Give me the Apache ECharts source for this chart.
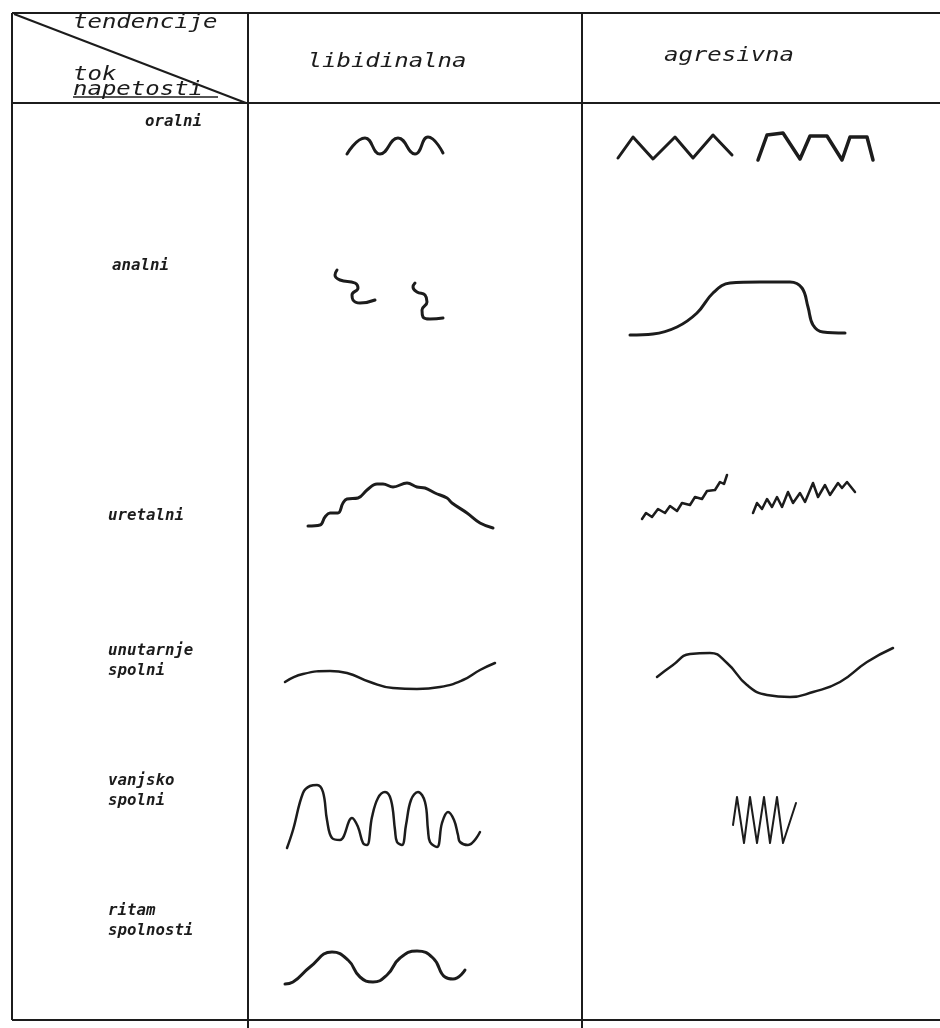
<!DOCTYPE html>
<html>
<head>
<meta charset="utf-8">
<script src="https://cdn.jsdelivr.net/npm/echarts@6/dist/echarts.min.js"></script>
<style>
  html, body { margin: 0; padding: 0; background: #fff; }
  #main { width: 940px; height: 1028px; }
</style>
</head>
<body>
<div id="main"></div>
<script>
// zaglavlja tablice
var columnTitles = ['libidinalna', 'agresivna'];
var cornerTop = 'tendencije';
var cornerBottom = ['tok', 'napetosti'];
var rowLabels = [['oralni'], ['analni'], ['uretalni'], ['unutarnje', 'spolni'], ['vanjsko', 'spolni'], ['ritam', 'spolnosti']];

// krivulje: [x unutar celije, visina od dna celije]
var libOral = [[99,46],[117,62],[132,46],[150,62],[167,46],[180,63],[195,47]];
var aggOralA = [[36,42],[51,63],[71,41],[93,63],[111,42],[131,65],[150,45]];
var aggOralB = [[176,40],[185,65],[201,67],[218,41],[228,64],[245,64],[260,40],[268,63],[285,63],[291,40]];

var libAnalA = [[89,120],[87,115],[92,110],[107,107],[110,102],[104,95],[105,90],[112,87],[127,90]];
var libAnalB = [[167,107],[165,103],[169,98],[177,95],[179,88],[174,80],[175,73],[182,71],[195,72]];
var aggAnal = [[48,55],[71,56],[95,63],[115,77],[131,97],[148,107],[178,108],[208,108],[220,102],[226,83],[231,65],[241,58],[263,57]];

var libUretal = [[60,64],[72,65],[77,73],[82,77],[90,77],[95,87],[99,91],[110,92],[119,100],[129,106],[135,106],[145,103],[159,107],[169,103],[177,102],[187,97],[199,92],[204,87],[219,77],[232,67],[245,62]];
var aggUretalA = [[60,71],[64,77],[70,73],[76,81],[83,77],[88,84],[95,79],[100,87],[108,85],[113,93],[120,91],[125,99],[133,100],[138,108],[142,106],[145,115]];
var aggUretalB = [[171,77],[175,87],[180,81],[185,91],[190,83],[195,93],[200,83],[206,98],[211,87],[218,97],[223,88],[231,107],[236,93],[243,105],[248,95],[256,107],[260,102],[265,108],[273,98]];

var libInner = [[37,48],[55,56],[82,59],[99,57],[122,48],[145,42],[169,41],[192,43],[215,50],[232,60],[247,67]];
var aggInner = [[75,53],[91,65],[108,76],[128,77],[145,67],[165,45],[185,35],[208,33],[231,38],[258,48],[285,68],[311,82]];

var libOuter = [[39,22],[45,40],[55,77],[62,84],[69,85],[75,78],[79,50],[84,32],[92,30],[104,52],[110,43],[115,27],[119,25],[124,53],[130,72],[137,78],[143,70],[147,40],[149,28],[154,25],[158,45],[163,70],[170,78],[177,68],[180,40],[182,28],[189,23],[194,47],[200,58],[206,50],[210,35],[212,28],[220,25],[232,38]];
var aggOuter = [[151,45],[155,73],[162,27],[168,73],[175,27],[182,73],[188,27],[195,73],[201,27],[214,67]];

var libRhythm = [[37,36],[45,38],[62,53],[84,68],[100,60],[112,43],[125,38],[139,45],[152,62],[169,69],[185,62],[197,43],[205,41],[217,50]];

// raspored tablice
var tableLeft = 12, tableTop = 13, tableBottom = 1020;
var colEdges = [248, 582, 940];
var rowEdges = [103, 200, 390, 590, 730, 870, 1020];
var ink = '#1c1c1c';

var curves = [
  {data: libOral, row: 0, col: 0, smooth: 0.5, width: 3},
  {data: aggOralA, row: 0, col: 1, smooth: false, width: 3},
  {data: aggOralB, row: 0, col: 1, smooth: false, width: 3.5},
  {data: libAnalA, row: 1, col: 0, smooth: 0.5, width: 3},
  {data: libAnalB, row: 1, col: 0, smooth: 0.5, width: 3},
  {data: aggAnal, row: 1, col: 1, smooth: 0.4, width: 3},
  {data: libUretal, row: 2, col: 0, smooth: 0.4, width: 3},
  {data: aggUretalA, row: 2, col: 1, smooth: false, width: 2.5},
  {data: aggUretalB, row: 2, col: 1, smooth: false, width: 2.5},
  {data: libInner, row: 3, col: 0, smooth: 0.5, width: 2.5},
  {data: aggInner, row: 3, col: 1, smooth: 0.5, width: 2.5},
  {data: libOuter, row: 4, col: 0, smooth: 0.4, width: 2.5},
  {data: aggOuter, row: 4, col: 1, smooth: false, width: 2},
  {data: libRhythm, row: 5, col: 0, smooth: 0.5, width: 3}
];

var grids = [], xAxes = [], yAxes = [], series = [];
curves.forEach(function (c, i) {
  var left = colEdges[c.col], w = colEdges[c.col + 1] - left;
  var top = rowEdges[c.row], h = rowEdges[c.row + 1] - top;
  grids.push({left: left, top: top, width: w, height: h, show: false});
  xAxes.push({type: 'value', gridIndex: i, min: 0, max: w, show: false});
  yAxes.push({type: 'value', gridIndex: i, min: 0, max: h, show: false});
  series.push({
    type: 'line', xAxisIndex: i, yAxisIndex: i, data: c.data,
    smooth: c.smooth, showSymbol: false, silent: true,
    lineStyle: {color: ink, width: c.width, cap: 'round', join: 'round'}
  });
});

// linije tablice
function line(x1, y1, x2, y2, w) {
  return {type: 'line', shape: {x1: x1, y1: y1, x2: x2, y2: y2}, style: {stroke: ink, lineWidth: w || 2}, silent: true};
}
var graphics = [
  line(tableLeft, tableTop, 940, tableTop),
  line(tableLeft, tableTop, tableLeft, tableBottom),
  line(tableLeft, rowEdges[0], 940, rowEdges[0]),
  line(colEdges[0], tableTop, colEdges[0], 1028),
  line(colEdges[1], tableTop, colEdges[1], 1028),
  line(tableLeft, tableBottom, 940, tableBottom),
  line(tableLeft + 2, tableTop + 1, colEdges[0] - 2, rowEdges[0]),
  line(73, 97, 218, 97, 1.5)
];

function txt(s, x, y, size, align, sx, weight) {
  return {
    type: 'text', x: x, y: y, scaleX: sx, silent: true,
    style: {text: s, fill: ink, fontFamily: 'DejaVu Sans Mono', fontStyle: 'italic',
      fontWeight: weight || 'normal', fontSize: size, textAlign: align, textVerticalAlign: 'middle'}
  };
}
graphics.push(txt(cornerTop, 73, 23, 20, 'left', 1.2));
graphics.push(txt(cornerBottom[0], 73, 75, 20, 'left', 1.2));
graphics.push(txt(cornerBottom[1], 73, 90, 20, 'left', 1.2));
graphics.push(txt(columnTitles[0], 387, 62, 20, 'center', 1.2));
graphics.push(txt(columnTitles[1], 729, 56, 20, 'center', 1.2));

var labelPos = [[145, 122], [112, 266], [108, 516], [108, 651], [108, 781], [108, 911]];
rowLabels.forEach(function (lines, i) {
  lines.forEach(function (s, j) {
    graphics.push(txt(s, labelPos[i][0], labelPos[i][1] + j * 20, 15, 'left', 1.05, 'bold'));
  });
});

var chart = echarts.init(document.getElementById('main'));
chart.setOption({
  backgroundColor: '#fff',
  animation: false,
  grid: grids,
  xAxis: xAxes,
  yAxis: yAxes,
  series: series,
  graphic: graphics
});
</script>
</body>
</html>
